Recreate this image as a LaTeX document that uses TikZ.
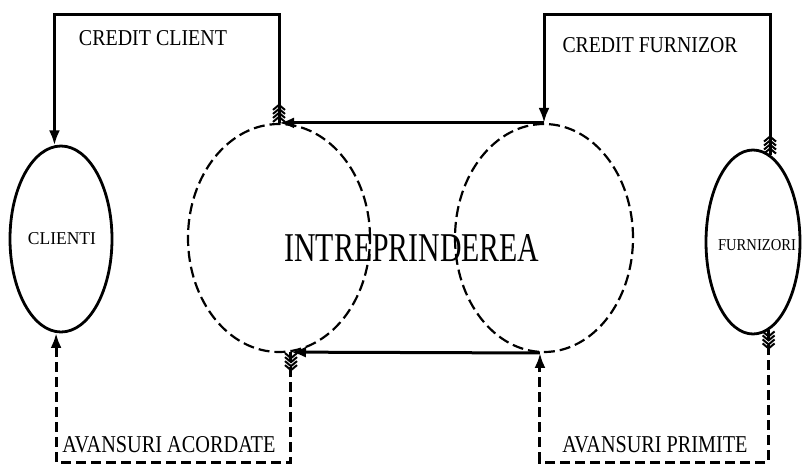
\documentclass[tikz,border=0pt]{standalone}
\usepackage{fontspec}
\setmainfont{Liberation Serif}
\usepackage{graphicx}
\usetikzlibrary{shapes.geometric,arrows.meta,decorations.markings}

% squeeze a caption into a given width and cap height
\newcommand\fitlabel[3]{\resizebox{#1pt}{#2pt}{#3}}

\begin{document}
\begin{tikzpicture}[x=1pt,y=-1pt,
  party/.style={ellipse, draw, line width=2.8pt, inner sep=0pt},
  firm/.style={ellipse, draw, line width=2.2pt, dash pattern=on 11pt off 5pt,
    inner sep=0pt},
  flow/.style={line width=3pt, -{Latex[length=15pt,width=11pt]}},
  advance/.style={flow, dash pattern=on 10pt off 5pt},
  feathered/.style={postaction={decorate}, decoration={markings,
    mark=at position 1pt with {
      \foreach \k in {0,...,3}
        \draw[solid, line width=2pt, -, miter limit=2]
          ({\k*4pt},-6pt) -- ({\k*4pt+5pt},0pt) -- ({\k*4pt},6pt);
    }}},
  txt/.style={inner sep=0pt}
]
\useasboundingbox (0,0) rectangle (805,466);

% the partners and the firm (drawn as two overlapping dashed ovals)
\node[party, minimum width=102pt, minimum height=186pt] (C) at (61,239) {};
\node[party, minimum width=94pt, minimum height=184pt] (F) at (753,242) {};
\node[firm, minimum width=182pt, minimum height=228pt] (L) at (279,238) {};
\node[firm, minimum width=178pt, minimum height=228pt] (R) at (544,238) {};

% levels of the upper and lower loops
\coordinate (topY) at (0,14);
\coordinate (botY) at (0,462);

% credit flows
\draw[flow, feathered] (L.north) -- (L.north |- topY) -| (C.94);
\draw[flow, feathered] (F.79) -- (F.79 |- topY) -| (R.north);

% advance payments
\draw[advance, feathered] (L.-84) -- (L.-84 |- botY) -| (C.-93);
\draw[advance, feathered] (F.-80) -- (F.-80 |- botY) -| (R.-92);

% links between the two sides of the firm
\draw[flow] (R.north) -- (L.north);
\draw[flow] (R.-92) -- (L.-84);

% captions
\node[txt] (tCC) at (153,38) {\fitlabel{148}{15}{CREDIT CLIENT}};
\node[txt] (tCF) at (650,45) {\fitlabel{175}{15}{CREDIT FURNIZOR}};
\node[txt] (tC) at (62,239) {\fitlabel{68}{12}{CLIENTI}};
\node[txt] (tF) at (757,245) {\fitlabel{78}{11}{FURNIZORI}};
\node[txt] (tI) at (412,248) {\fitlabel{255}{27}{INTREPRINDEREA}};
\node[txt] (tAA) at (169,445) {\fitlabel{213}{16}{AVANSURI ACORDATE}};
\node[txt] (tAP) at (655,445) {\fitlabel{185}{16}{AVANSURI PRIMITE}};
\end{tikzpicture}
\end{document}
